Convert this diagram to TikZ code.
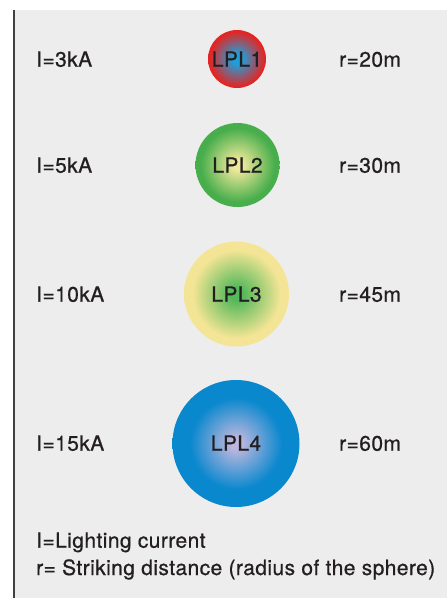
\documentclass[tikz,border=0pt]{standalone}
\usepackage{fontspec}
\setmainfont[FakeBold=0.7,LetterSpace=2]{TeX Gyre Heros}
\definecolor{bg}{HTML}{EDEDED}
\definecolor{txt}{HTML}{231F20}
\definecolor{aIn}{HTML}{1E9FDA}
\definecolor{aOut}{HTML}{E52421}
\definecolor{bIn}{HTML}{EEE89A}
\definecolor{bOut}{HTML}{48AE4C}
\definecolor{cIn}{HTML}{55B85A}
\definecolor{cOut}{HTML}{F3E595}
\definecolor{dIn}{HTML}{BCB7DE}
\definecolor{dOut}{HTML}{0A88CE}
\pgfdeclareradialshading{lplA}{\pgfpoint{0bp}{0bp}}{color(0bp)=(aIn); color(4bp)=(aIn); color(24bp)=(aOut); color(25bp)=(aOut); color(50bp)=(aOut)}
\pgfdeclareradialshading{lplB}{\pgfpoint{0bp}{0bp}}{color(0bp)=(bIn); color(3bp)=(bIn); color(22bp)=(bOut); color(25bp)=(bOut); color(50bp)=(bOut)}
\pgfdeclareradialshading{lplC}{\pgfpoint{0bp}{0bp}}{color(0bp)=(cIn); color(3bp)=(cIn); color(21bp)=(cOut); color(25bp)=(cOut); color(50bp)=(cOut)}
\pgfdeclareradialshading{lplD}{\pgfpoint{0bp}{0bp}}{color(0bp)=(dIn); color(2bp)=(dIn); color(18bp)=(dOut); color(25bp)=(dOut); color(50bp)=(dOut)}
\begin{document}
\begin{tikzpicture}[x=1pt,y=-1pt,
  lbl/.style={anchor=base west,inner sep=0pt,text=txt,font=\fontsize{21}{25}\selectfont},
  ctr/.style={anchor=base,inner sep=0pt,text=txt,font=\fontsize{21}{25}\selectfont}]
\useasboundingbox (0,0) rectangle (447,598);
\fill[white] (0,0) rectangle (447,598);
\fill[bg] (14,10) rectangle (447,598);
\draw[line width=1.4pt,black!75] (14,10) -- (14,598);
% spheres
\shade[shading=lplA] (237,59) circle (29);
\shade[shading=lplB] (237.5,165) circle (42);
\shade[shading=lplC] (236.5,294) circle (52.5);
\shade[shading=lplD] (236,443.5) circle (63.5);
% labels
\node[lbl] (i1) at (36,66.7) {I=3kA};
\node[lbl] (i2) at (36,172.7) {I=5kA};
\node[lbl] (i3) at (36,301.7) {I=10kA};
\node[lbl] (i4) at (36,450.7) {I=15kA};
\node[ctr] (l1) at (237,66.7) {LPL1};
\node[ctr] (l2) at (237.5,172.7) {LPL2};
\node[ctr] (l3) at (236.5,301.7) {LPL3};
\node[ctr] (l4) at (236,450.7) {LPL4};
\node[lbl] (r1) at (339,66.7) {r=20m};
\node[lbl] (r2) at (339,172.7) {r=30m};
\node[lbl] (r3) at (339,301.7) {r=45m};
\node[lbl] (r4) at (339,450.7) {r=60m};
\node[lbl] (n1) at (36,547.7) {I=Lighting current};
\node[lbl] (n2) at (36,575) {r= Striking distance (radius of the sphere)};
\end{tikzpicture}
\end{document}
